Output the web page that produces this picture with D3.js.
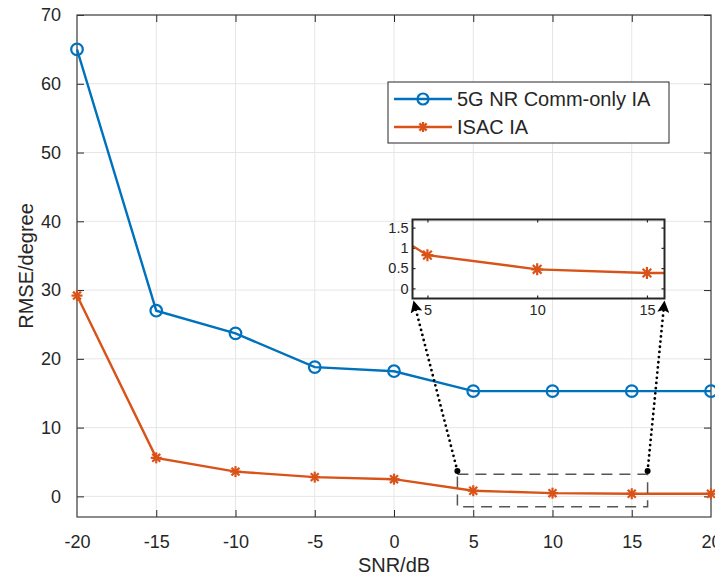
<!DOCTYPE html>
<html><head><meta charset="utf-8">
<script src="https://cdn.jsdelivr.net/npm/d3@7"></script>
<style>
html,body{margin:0;padding:0;background:#fff;}
text{font-family:"Liberation Sans",Arial,Helvetica,sans-serif;fill:#262626;}
</style></head>
<body><svg id="c" width="715" height="577"></svg>
<script>
const snr = [-20,-15,-10,-5,0,5,10,15,20];
const commOnly = [65,27,23.7,18.8,18.2,15.3,15.3,15.3,15.3];
const isac = [29.2,5.6,3.6,2.8,2.5,0.82,0.47,0.38,0.38];
const seriesNames = ["5G NR Comm-only IA","ISAC IA"];
const xTicks = [-20,-15,-10,-5,0,5,10,15,20];
const xTickLabels = ["-20","-15","-10","-5","0","5","10","15","20"];
const yTicks = [0,10,20,30,40,50,60,70];
const insetXTicks = [5,10,15];
const insetYTicks = [0,0.5,1,1.5];
const insetYLabels = ["0","0.5","1","1.5"];

const blue = "#0072BD", orange = "#D95319", axc = "#262626";
const svg = d3.select("#c");

const x = d3.scaleLinear().domain([-20,20]).range([77,711]);
const y = d3.scaleLinear().domain([-3,70]).range([517,15]);

// grid
const g = svg.append("g");
g.selectAll(".gx").data(xTicks).enter().append("line")
  .attr("x1",d=>x(d)).attr("x2",d=>x(d)).attr("y1",y(-3)).attr("y2",y(70))
  .attr("stroke","#e6e6e6").attr("stroke-width",1);
g.selectAll(".gy").data(yTicks).enter().append("line")
  .attr("x1",x(-20)).attr("x2",x(20)).attr("y1",d=>y(d)).attr("y2",d=>y(d))
  .attr("stroke","#e6e6e6").attr("stroke-width",1);

function styleAxis(sel){
  sel.select(".domain").remove();
  sel.selectAll(".tick line").attr("stroke",axc).attr("stroke-width",1);
  sel.selectAll(".tick text").attr("fill",axc).style("font-size","18px").style("font-family",'"Liberation Sans",Arial,sans-serif');
}
const xa = svg.append("g").attr("transform",`translate(0,${y(-3)})`)
  .call(d3.axisBottom(x).tickValues(xTicks).tickSizeInner(-7).tickSizeOuter(0).tickPadding(18).tickFormat((d,i)=>xTickLabels[i]));
styleAxis(xa);
const xt = svg.append("g").attr("transform",`translate(0,${y(70)})`)
  .call(d3.axisTop(x).tickValues(xTicks).tickSizeInner(-7).tickSizeOuter(0).tickFormat(""));
styleAxis(xt);
const ya = svg.append("g").attr("transform",`translate(${x(-20)},0)`)
  .call(d3.axisLeft(y).tickValues(yTicks).tickSizeInner(-7).tickSizeOuter(0).tickPadding(16));
styleAxis(ya);
const yr = svg.append("g").attr("transform",`translate(${x(20)},0)`)
  .call(d3.axisRight(y).tickValues(yTicks).tickSizeInner(-7).tickSizeOuter(0).tickFormat(""));
styleAxis(yr);
xt.selectAll(".tick").filter(d=>d===-20||d===20).remove();
xa.selectAll(".tick line").filter(d=>d===-20||d===20).remove();

svg.append("rect").attr("x",x(-20)).attr("y",y(70)).attr("width",x(20)-x(-20)).attr("height",y(-3)-y(70))
  .attr("fill","none").attr("stroke","#404040").attr("stroke-width",1.2);

svg.append("text").attr("x",(x(-20)+x(20))/2).attr("y",572).attr("text-anchor","middle")
  .style("font-size","20px").text("SNR/dB");
svg.append("text").attr("transform",`translate(33,${(y(-3)+y(70))/2}) rotate(-90)`).attr("text-anchor","middle")
  .style("font-size","20px").text("RMSE/degree");

function star(sel, cx, cy, r, color){
  const gg = sel.append("g").attr("transform",`translate(${cx},${cy})`).attr("stroke",color).attr("stroke-width",2.2);
  const a = r*0.72;
  gg.append("line").attr("x1",-r).attr("x2",r).attr("y1",0).attr("y2",0);
  gg.append("line").attr("x1",0).attr("x2",0).attr("y1",-r).attr("y2",r);
  gg.append("line").attr("x1",-a).attr("x2",a).attr("y1",-a).attr("y2",a);
  gg.append("line").attr("x1",-a).attr("x2",a).attr("y1",a).attr("y2",-a);
}

const line = d3.line().x((d,i)=>x(snr[i])).y(d=>y(d));
const data = svg.append("g");
data.append("path").datum(commOnly).attr("d",line).attr("fill","none").attr("stroke",blue).attr("stroke-width",2.4);
data.append("path").datum(isac).attr("d",line).attr("fill","none").attr("stroke",orange).attr("stroke-width",2.4);
data.selectAll(".circ").data(commOnly).enter().append("circle")
  .attr("cx",(d,i)=>x(snr[i])).attr("cy",d=>y(d)).attr("r",5.8)
  .attr("fill","none").attr("stroke",blue).attr("stroke-width",2.2);
isac.forEach((d,i)=>star(data, x(snr[i]), y(d), 5.5, orange));

const zx0 = 4, zx1 = 16, zy0 = -1.5, zy1 = 3.2, dotY = 3.7;
svg.append("rect").attr("x",x(zx0)).attr("y",y(zy1)).attr("width",x(zx1)-x(zx0)).attr("height",y(zy0)-y(zy1))
  .attr("fill","none").attr("stroke","#555").attr("stroke-width",1.5).attr("stroke-dasharray","11 7");

const ix = d3.scaleLinear().domain([4.32,15.8]).range([412.5,664.5]);
const iy = d3.scaleLinear().domain([-0.25,1.7]).range([298.5,219.5]);
const ins = svg.append("g");
svg.append("clipPath").attr("id","insclip").append("rect")
  .attr("x",ix(4.32)).attr("y",iy(1.7)).attr("width",ix(15.8)-ix(4.32)).attr("height",iy(-0.25)-iy(1.7));
function styleInset(sel){
  sel.select(".domain").remove();
  sel.selectAll(".tick line").attr("stroke",axc).attr("stroke-width",1.2);
  sel.selectAll(".tick text").attr("fill",axc).style("font-size","14.5px").style("font-family",'"Liberation Sans",Arial,sans-serif');
}
const ixa = ins.append("g").attr("transform",`translate(0,${iy(-0.25)})`)
  .call(d3.axisBottom(ix).tickValues(insetXTicks).tickSizeInner(-3).tickSizeOuter(0).tickPadding(6).tickFormat(d3.format("d")));
styleInset(ixa);
const ixt = ins.append("g").attr("transform",`translate(0,${iy(1.7)})`)
  .call(d3.axisTop(ix).tickValues(insetXTicks).tickSizeInner(-3).tickSizeOuter(0).tickFormat(""));
styleInset(ixt);
const iya = ins.append("g").attr("transform",`translate(${ix(4.32)},0)`)
  .call(d3.axisLeft(iy).tickValues(insetYTicks).tickSizeInner(-3).tickSizeOuter(0).tickPadding(4).tickFormat((d,i)=>insetYLabels[i]));
styleInset(iya);
const iyr = ins.append("g").attr("transform",`translate(${ix(15.8)},0)`)
  .call(d3.axisRight(iy).tickValues(insetYTicks).tickSizeInner(-3).tickSizeOuter(0).tickFormat(""));
styleInset(iyr);
const iline = d3.line().x((d,i)=>ix(snr[i])).y(d=>iy(d));
const idata = ins.append("g").attr("clip-path","url(#insclip)");
idata.append("path").datum(isac).attr("d",iline).attr("fill","none").attr("stroke",orange).attr("stroke-width",2.4);
isac.forEach((d,i)=>{ if(snr[i]>=5 && snr[i]<=15) star(idata, ix(snr[i]), iy(d), 6, orange); });
ins.append("rect").attr("x",ix(4.32)).attr("y",iy(1.7)).attr("width",ix(15.8)-ix(4.32)).attr("height",iy(-0.25)-iy(1.7))
  .attr("fill","none").attr("stroke","#262626").attr("stroke-width",2);

const defs = svg.append("defs");
defs.append("marker").attr("id","ah").attr("viewBox","0 0 10 10").attr("refX",10).attr("refY",5)
  .attr("markerWidth",12).attr("markerHeight",12).attr("markerUnits","userSpaceOnUse").attr("orient","auto")
  .append("path").attr("d","M0,0 L10,5 L0,10 L2,5 Z").attr("fill","#000");
const arrows = [
  {x1:x(zx0), y1:y(dotY), x2:ix(4.32)+1, y2:iy(-0.25)+2},
  {x1:x(zx1), y1:y(dotY), x2:ix(15.8), y2:iy(-0.25)+2}
];
arrows.forEach(a=>{
  svg.append("line").attr("x1",a.x1).attr("y1",a.y1).attr("x2",a.x2).attr("y2",a.y2)
    .attr("stroke","#000").attr("stroke-width",2.8).attr("stroke-linecap","round")
    .attr("stroke-dasharray","0 5.2").attr("marker-end","url(#ah)");
  svg.append("circle").attr("cx",a.x1).attr("cy",a.y1).attr("r",3).attr("fill","#000");
});

const lg = svg.append("g");
lg.append("rect").attr("x",388).attr("y",82).attr("width",281).attr("height",61)
  .attr("fill","#fff").attr("stroke","#262626").attr("stroke-width",1);
const rows = [{name:seriesNames[0],color:blue,mk:"o",yy:99},{name:seriesNames[1],color:orange,mk:"*",yy:127}];
rows.forEach(r=>{
  lg.append("line").attr("x1",394).attr("x2",452).attr("y1",r.yy).attr("y2",r.yy).attr("stroke",r.color).attr("stroke-width",2.4);
  if(r.mk==="o") lg.append("circle").attr("cx",423).attr("cy",r.yy).attr("r",5.5).attr("fill","none").attr("stroke",r.color).attr("stroke-width",2.2);
  else star(lg,423,r.yy,5,r.color);
  lg.append("text").attr("x",457).attr("y",r.yy+7).style("font-size","20px").text(r.name);
});
</script></body></html>
